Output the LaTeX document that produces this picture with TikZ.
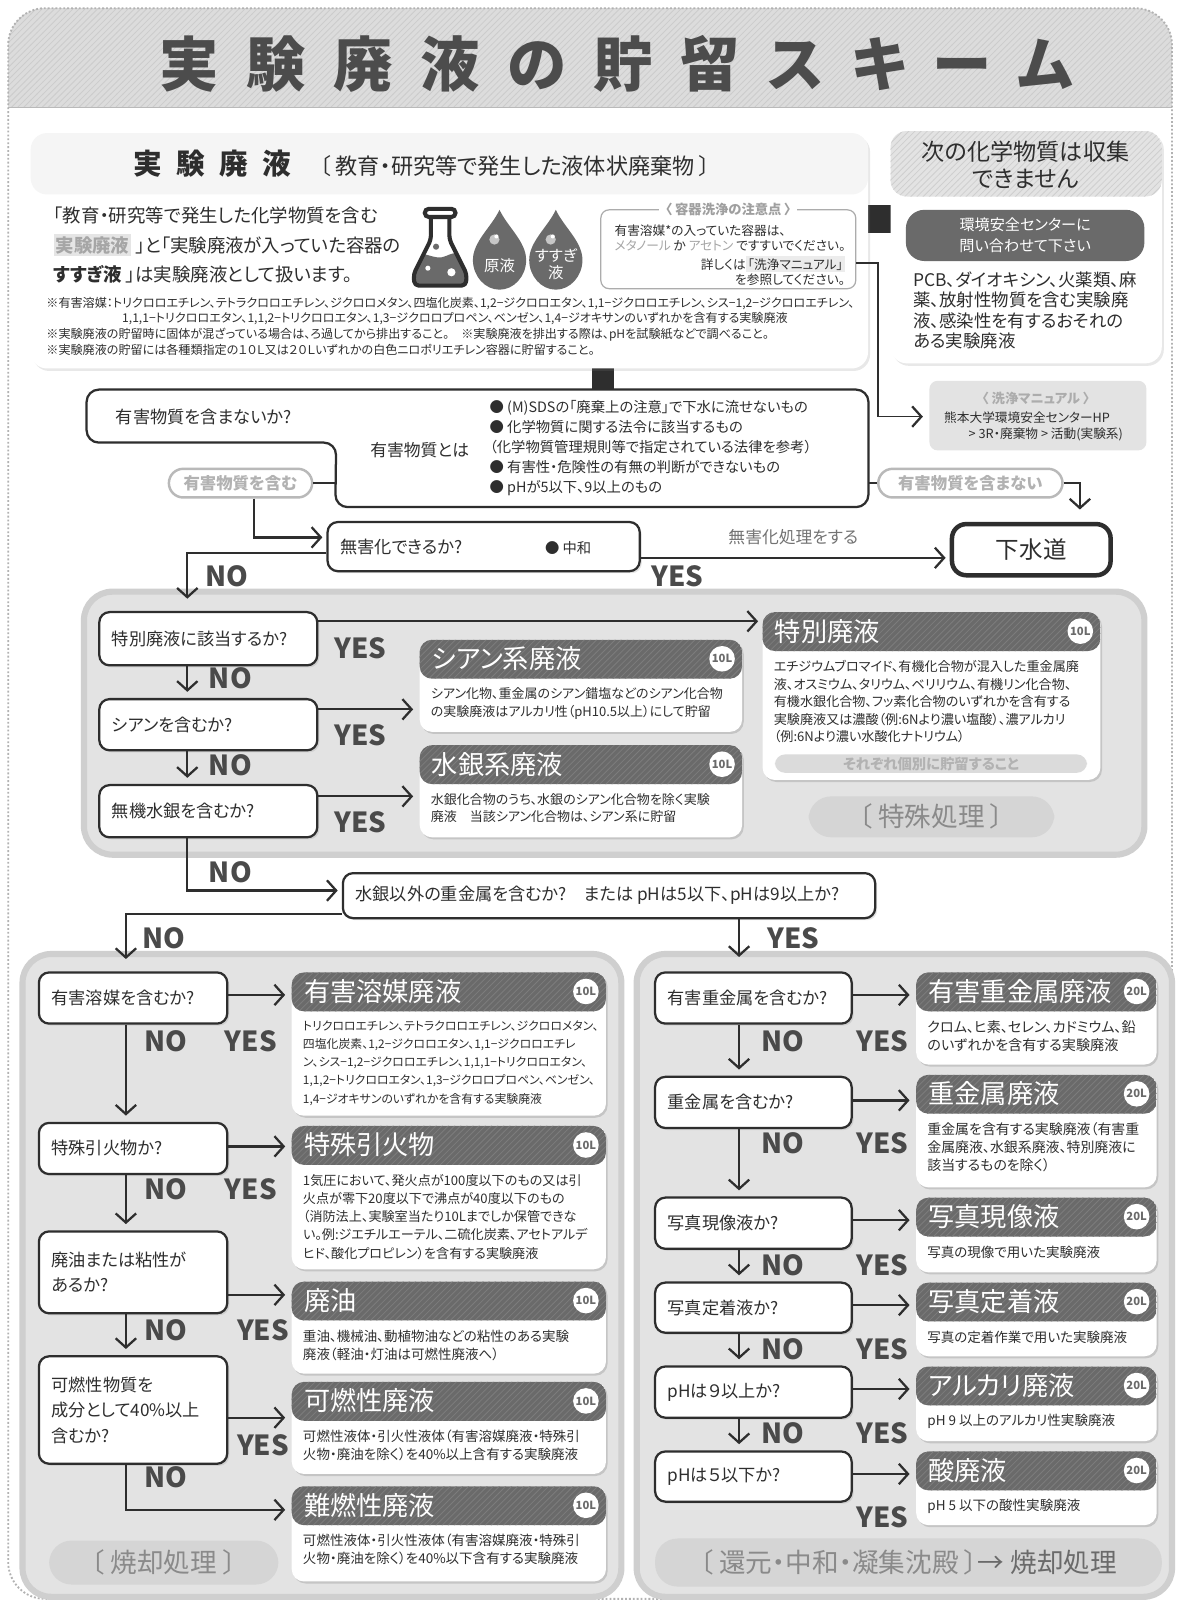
\documentclass[tikz,border=0pt]{standalone}
\usepackage{fontspec}
\setmainfont[RawFeature=+palt]{Noto Sans CJK JP}
\usetikzlibrary{positioning,fit,shadows,patterns,arrows.meta}

\definecolor{inkgray}{HTML}{2E2E2E}
\definecolor{titlegray}{HTML}{4C4C4C}
\definecolor{hdrgray}{HTML}{6A6A6A}
\definecolor{hdrline}{HTML}{7C7C7C}
\definecolor{secfill}{HTML}{E3E3E3}
\definecolor{secline}{HTML}{CFCFCF}
\definecolor{pillgray}{HTML}{D5D5D5}
\definecolor{pilltext}{HTML}{8A8A8A}
\definecolor{yngray}{HTML}{4A4A4A}
\definecolor{bandgray}{HTML}{DCDCDC}

\newcommand{\setfs}[2]{\fontsize{#1}{#2}\selectfont}
\newcommand{\tsp}{\hspace{13.5pt}}
\setlength{\fboxsep}{1pt}

\tikzset{
  flow/.style={draw=inkgray, line width=1.1pt, shorten >=2pt,
    -{Straight Barb[length=4.5pt,width=10pt,line width=1.1pt]}},
  plain/.style={draw=inkgray, line width=1.1pt},
  qbox/.style={draw=inkgray, line width=1.1pt, fill=white, rounded corners=5pt,
    inner sep=0pt, drop shadow={opacity=0.2,shadow xshift=1pt,shadow yshift=-1pt}},
  qtext/.style={font=\setfs{8.4}{12.5}, inner sep=0pt, align=left, anchor=west},
  yn/.style={font=\setfs{13.5}{14}\bfseries, text=yngray, inner sep=0pt},
  section/.style={fill=secfill, draw=secline, line width=3pt, rounded corners=14pt, inner sep=0pt},
  card/.style={inner sep=0pt, fill=white, rounded corners=6pt,
    drop shadow={opacity=0.3,shadow xshift=0.8pt,shadow yshift=-1pt},
    path picture={
      \fill[hdrgray] (path picture bounding box.north west) rectangle ([yshift=-19pt]path picture bounding box.north east);
      \fill[pattern=north east lines, pattern color=hdrline] (path picture bounding box.north west) rectangle ([yshift=-19pt]path picture bounding box.north east);
    }},
  cardtitle/.style={anchor=west, text=white, font=\setfs{12.8}{13}, inner sep=0pt},
  badge/.style={circle, fill=white, text=hdrgray, font=\setfs{5.5}{6}\bfseries, inner sep=0pt, minimum size=12.5pt},
  cardbody/.style={anchor=north west, align=left, inner sep=0pt},
  gpill/.style={fill=pillgray, rounded corners=11pt, inner sep=0pt},
  gpilltext/.style={text=pilltext, inner sep=0pt, font=\setfs{13}{14}},
  opill/.style={draw=gray!55, line width=1.2pt, fill=white, rounded corners=7pt, inner sep=0pt},
  opilltext/.style={text=gray!60, inner sep=0pt, font=\setfs{8}{9}\bfseries},
  infobox/.style={inner sep=0pt, fill=white, rounded corners=8pt,
    drop shadow={opacity=0.18,shadow xshift=1pt,shadow yshift=-1.2pt}},
}

% result card: name, corners, title, badge, body font, body
\newcommand{\wastecard}[7]{%
  \node[card, fit={#2 #3}] (#1) {};
  \node[cardtitle] (#1-t) at ([xshift=6pt,yshift=-9.5pt]#1.north west) {#4};
  \node[badge] (#1-b) at ([xshift=-10pt,yshift=-9.5pt]#1.north east) {#5};
  \node[cardbody, font=#6] (#1-x) at ([xshift=5.5pt,yshift=-23.5pt]#1.north west) {#7};
}
% question box with its text
\newcommand{\qnode}[4]{%
  \node[qbox, fit={#2 #3}] (#1) {};
  \node[qtext] (#1-t) at ([xshift=6.5pt]#1.west) {#4};
}

\begin{document}
\begin{tikzpicture}[x=0.5pt, y=-0.5pt, every node/.style={text=inkgray}]
\useasboundingbox (0,0) rectangle (1151,1568);
\fill[white] (0,0) rectangle (1151,1568);

% frame and title band
\begin{scope}
  \clip[rounded corners=18pt] (8,8) rectangle (1145,1562);
  \fill[bandgray] (0,0) rectangle (1151,105);
  \fill[pattern=north east lines, pattern color=gray!40] (0,0) rectangle (1151,105);
\end{scope}
\draw[gray!55, line width=0.6pt] (8,105) -- (1145,105);
\draw[gray!60, line width=0.9pt, densely dotted, rounded corners=18pt] (8,8) rectangle (1145,1562);
\node[font=\setfs{29}{31}\bfseries, text=titlegray] (title) at (602,62)
  {実\tsp 験\tsp 廃\tsp 液\tsp の\tsp 貯\tsp 留\tsp ス\tsp キ\tsp ー\tsp ム};

% ---- top information ----
\fill[inkgray] (848,200) rectangle (870,228);
\fill[inkgray] (578,358) rectangle (600,381);
\node[infobox, fit={(30,130) (848,360)},
  path picture={\fill[gray!8] (path picture bounding box.north west) rectangle ([yshift=-30pt]path picture bounding box.north east);}] (info) {};
\node[anchor=west, inner sep=0pt] (infohead) at (130,160)
  {\setfs{14}{15}\bfseries 実\hspace{7pt}験\hspace{7pt}廃\hspace{7pt}液\hspace{14pt}\mdseries\setfs{10.8}{12}〔 教育・研究等で発生した液体状廃棄物 〕};
\node[anchor=north west, align=left, inner sep=0pt, font=\setfs{9}{14.3}] (intro) at (52,202)
  {「教育・研究等で発生した化学物質を含む\\
   \colorbox{gray!20}{\textcolor{gray!70}{\bfseries 実験廃液}} 」と「実験廃液が入っていた容器の\\
   {\bfseries すすぎ液} 」は実験廃液として扱います。};

% flask
\begin{scope}
  \clip (421,212) -- (421,234) -- (404,268) -- (405,279) -- (455,279) -- (456,268) -- (439,234) -- (439,212) -- cycle;
  \fill[hdrgray] (400,250) .. controls (412,242) and (424,256) .. (436,250) .. controls (446,245) and (452,248) .. (460,246) -- (460,285) -- (400,285) -- cycle;
\end{scope}
\fill[white] (441,266) circle[radius=4];
\fill[white] (418,262) circle[radius=2.5];
\fill[hdrgray] (426,241) circle[radius=3];
\draw[inkgray, line width=2pt, line join=round, rounded corners=2pt]
  (421,212) -- (421,234) -- (404,268) -- (405,279) -- (455,279) -- (456,268) -- (439,234) -- (439,212);
\draw[inkgray, line width=2pt, rounded corners=2pt] (415,204) rectangle (445,212);

% drops
\foreach \dx in {488,543}{
  \begin{scope}[shift={(\dx,0)}]
    \fill[hdrgray] (0,205) .. controls (-8,222) and (-26,236) .. (-26,254) .. controls (-26,270) and (-14,283) .. (0,283)
      .. controls (14,283) and (26,270) .. (26,254) .. controls (26,236) and (8,222) .. (0,205) -- cycle;
    \fill[gray!45] (-5,234) circle[radius=5];
    \fill[white] (-3,231) circle[radius=2];
  \end{scope}
}
\node[text=white, font=\setfs{7.5}{8.5}] (genseki) at (488,260) {原液};
\node[text=white, font=\setfs{7.5}{8.5}, align=center] (susugi) at (543,258) {すすぎ\\液};

% container rinse note
\node[draw=gray!65, line width=0.6pt, rounded corners=4pt, inner sep=0pt, fit={(587,205) (836,282)}] (kyouki) {};
\node[fill=white, inner xsep=3pt, inner ysep=0pt, font=\setfs{6.5}{7}\bfseries, text=gray!75] (kyouki-t) at (kyouki.north) {〈 容器洗浄の注意点 〉};
\node[anchor=north west, align=left, inner sep=0pt, font=\setfs{6.2}{7.3}] (kyouki-a) at (600,219)
  {有害溶媒*の入っていた容器は、\\ \textcolor{gray!70}{メタノール} か \textcolor{gray!70}{アセトン} ですすいでください。};
\node[anchor=north east, align=right, inner sep=0pt, font=\setfs{6.2}{7.5}] (kyouki-b) at (826,250)
  {詳しくは\colorbox{gray!15}{「洗浄マニュアル」}\\を参照してください。};

% footnotes
\node[anchor=north west, align=left, inner sep=0pt, font=\setfs{5.9}{7.6}] (notes) at (45,290)
  {※有害溶媒：トリクロロエチレン、テトラクロロエチレン、ジクロロメタン、四塩化炭素、1,2−ジクロロエタン、1,1−ジクロロエチレン、シス−1,2−ジクロロエチレン、\\
   \hspace*{37pt}1,1,1−トリクロロエタン、1,1,2−トリクロロエタン、1,3−ジクロロプロペン、ベンゼン、1,4−ジオキサンのいずれかを含有する実験廃液\\
   ※実験廃液の貯留時に固体が混ざっている場合は、ろ過してから排出すること。　※実験廃液を排出する際は、pHを試験紙などで調べること。\\
   ※実験廃液の貯留には各種類指定の１０Ｌ又は２０Ｌいずれかの白色ニロポリエチレン容器に貯留すること。};

% not collected
\node[infobox, fit={(870,128) (1135,355)},
  path picture={\fill[gray!22] (path picture bounding box.north west) rectangle ([yshift=-32pt]path picture bounding box.north east);
    \fill[pattern=north east lines, pattern color=gray!38] (path picture bounding box.north west) rectangle ([yshift=-32pt]path picture bounding box.north east);}] (ngbox) {};
\node[align=center, font=\setfs{11.3}{13}] (ng-t) at (1002,161) {次の化学物質は収集\\できません};
\node[fill=hdrgray, rounded corners=9pt, inner sep=0pt, fit={(885,205) (1118,255)}] (ngpill) {};
\node[text=white, align=center, inner sep=0pt, font=\setfs{7.4}{10}] (ngpill-t) at (ngpill) {環境安全センターに\\問い合わせて下さい};
\node[anchor=north west, align=left, inner sep=0pt, font=\setfs{8.5}{10}] (ng-x) at (892,265)
  {PCB、ダイオキシン、火薬類、麻\\薬、放射性物質を含む実験廃\\液、感染性を有するおそれの\\ある実験廃液};

% rinse manual
\node[fill=gray!22, rounded corners=4pt, inner sep=0pt, fit={(908,372) (1120,440)}] (manual) {};
\node[font=\setfs{6.5}{7}\bfseries, text=gray!65] (manual-t) at (1012,389) {〈 洗浄マニュアル 〉};
\node[anchor=north west, align=left, inner sep=0pt, font=\setfs{6.2}{7.8}] (manual-x) at (922,402)
  {熊本大学環境安全センターHP\\\hspace*{12pt}> 3R・廃棄物 > 活動(実験系)};
\draw[flow, line width=0.8pt, shorten >=3pt] (kyouki.east |- 0,257) -| (858,407) -- (manual.west |- 0,407);

% ---- hazardous substances ----
\node[fit={(85,381) (328,432)}, inner sep=0pt] (hq) {};
\node[fit={(328,381) (848,495)}, inner sep=0pt] (hdef) {};
\filldraw[fill=white, draw=inkgray, line width=1.1pt, rounded corners=6pt]
  (hq.south west) -- (hq.north west) -- (hdef.north east) -- (hdef.south east) -- (hdef.south west) -- (hq.south east) -- cycle;
\node[font=\setfs{8.4}{9}] (hq-t) at (199,407) {有害物質を含まないか?};
\node[font=\setfs{8.2}{9}] (hdef-t) at (410,440) {有害物質とは};
\node[anchor=north west, align=left, inner sep=0pt, font=\setfs{7}{9.7}] (hdef-x) at (478,391)
  {● (M)SDSの「廃棄上の注意」で下水に流せないもの\\
   ● 化学物質に関する法令に該当するもの\\
   （化学物質管理規則等で指定されている法律を参考）\\
   ● 有害性・危険性の有無の判断ができないもの\\
   ● pHが5以下、9以上のもの};
\node[opill, fit={(165,458) (305,486)}] (p1) {};
\node[opilltext] (p1-t) at (p1) {有害物質を含む};
\node[opill, fit={(858,458) (1038,486)}] (p2) {};
\node[opilltext] (p2-t) at (p2) {有害物質を含まない};

\qnode{mugai}{(320,510)}{(625,558)}{無害化できるか?}
\node[font=\setfs{7}{8}] (chuwa) at (555,535) {● 中和};
\node[draw=inkgray, line width=2.2pt, rounded corners=7pt, fill=white, inner sep=0pt,
  fit={(930,512) (1085,562)}] (gesui) {};
\node[font=\setfs{11.5}{12}, inner sep=0pt] (gesui-t) at (gesui) {下水道};
\node[font=\setfs{8.2}{9}, text=gray!90!black] (shori) at (775,525) {無害化処理をする};

\draw[plain] (p1.east) -- (hdef.west |- p1.east);
\draw[plain] (hdef.east |- p2.west) -- (p2.west);
\draw[flow] (p1.south -| 248,0) |- (mugai.west |- 0,525);
\draw[flow, shorten >=6pt] (p2.east) -| (gesui.north -| 1055,0);
\draw[flow] (mugai.east |- 0,545) -- (gesui.west |- 0,545);

% ---- special treatment ----
\node[section, fit={(82,578) (1118,835)}] (secS) {};
\qnode{qa1}{(97,598)}{(310,650)}{特別廃液に該当するか?}
\qnode{qa2}{(97,683)}{(310,733)}{シアンを含むか?}
\qnode{qa3}{(97,767)}{(310,818)}{無機水銀を含むか?}
\wastecard{cyan}{(410,625)}{(725,715)}{シアン系廃液}{10L}{\setfs{6.35}{8.6}}
  {シアン化物、重金属のシアン錯塩などのシアン化合物\\の実験廃液はアルカリ性（pH10.5以上）にして貯留}
\wastecard{hg}{(410,728)}{(725,818)}{水銀系廃液}{10L}{\setfs{6.35}{8.6}}
  {水銀化合物のうち、水銀のシアン化合物を除く実験\\廃液　当該シアン化合物は、シアン系に貯留}
\wastecard{tok}{(745,598)}{(1075,762)}{特別廃液}{10L}{\setfs{6.4}{8.6}}
  {エチジウムブロマイド、有機化合物が混入した重金属廃\\液、オスミウム、タリウム、ベリリウム、有機リン化合物、\\有機水銀化合物、フッ素化合物のいずれかを含有する\\実験廃液又は濃酸（例:6Nより濃い塩酸）、濃アルカリ\\（例:6Nより濃い水酸化ナトリウム）}
\node[fill=gray!28, rounded corners=5pt, inner sep=0pt, fit={(757,737) (1062,755)}] (tokpill) {};
\node[text=gray!60, inner sep=0pt, font=\setfs{7}{8}\bfseries] (tokpill-t) at (tokpill) {それぞれ個別に貯留すること};
\node[gpill, fit={(790,778) (1030,818)}] (tokusyu) {};
\node[gpilltext] (tokusyu-t) at (tokusyu) {〔 特殊処理 〕};

\draw[flow, shorten >=6pt] (mugai.west |- 0,540) -| (qa1.north -| 183,0);
\draw[flow] (qa1.east |- 0,607) -- (tok.west |- 0,607);
\foreach \a/\b/\y in {qa2/cyan/693, qa3/hg/778}
  \draw[flow, shorten >=3pt] (\a.east |- 0,\y) -- (\b.west |- 0,\y);
\foreach \a/\b in {qa1/qa2, qa2/qa3}
  \draw[flow, shorten >=3pt] (\a.south -| 183,0) -- (\b.north -| 183,0);

% ---- next question ----
\qnode{qm}{(335,853)}{(855,897)}{水銀以外の重金属を含むか?　または pHは5以下、pHは9以上か?}
\draw[flow] (qa3.south -| 183,0) |- (qm.west |- 0,870);

% ---- incineration ----
\node[section, fit={(22,932) (607,1560)}] (secL) {};
\qnode{q5}{(38,950)}{(222,1000)}{有害溶媒を含むか?}
\qnode{q6}{(38,1097)}{(222,1147)}{特殊引火物か?}
\qnode{q7}{(38,1203)}{(222,1283)}{廃油または粘性が\\あるか?}
\qnode{q8}{(38,1325)}{(222,1430)}{可燃性物質を\\成分として40\%以上\\含むか?}
\wastecard{yobai}{(285,950)}{(592,1090)}{有害溶媒廃液}{10L}{\setfs{5.8}{8.9}}
  {トリクロロエチレン、テトラクロロエチレン、ジクロロメタン、\\四塩化炭素、1,2−ジクロロエタン、1,1−ジクロロエチレ\\ン、シス−1,2−ジクロロエチレン、1,1,1−トリクロロエタン、\\1,1,2−トリクロロエタン、1,3−ジクロロプロペン、ベンゼン、\\1,4−ジオキサンのいずれかを含有する実験廃液}
\wastecard{inka}{(285,1100)}{(592,1240)}{特殊引火物}{10L}{\setfs{6.4}{8.9}}
  {1気圧において、発火点が100度以下のもの又は引\\火点が零下20度以下で沸点が40度以下のもの\\（消防法上、実験室当たり10Lまでしか保管できな\\い。例:ジエチルエーテル、二硫化炭素、アセトアルデ\\ヒド、酸化プロピレン）を含有する実験廃液}
\wastecard{haiyu}{(285,1252)}{(592,1342)}{廃油}{10L}{\setfs{6.6}{8.8}}
  {重油、機械油、動植物油などの粘性のある実験\\廃液（軽油・灯油は可燃性廃液へ）}
\wastecard{kanen}{(285,1350)}{(592,1440)}{可燃性廃液}{10L}{\setfs{6.6}{8.8}}
  {可燃性液体・引火性液体（有害溶媒廃液・特殊引\\火物・廃油を除く）を40\%以上含有する実験廃液}
\wastecard{nanen}{(285,1452)}{(592,1545)}{難燃性廃液}{10L}{\setfs{6.6}{8.8}}
  {可燃性液体・引火性液体（有害溶媒廃液・特殊引\\火物・廃油を除く）を40\%以下含有する実験廃液}
\node[gpill, fit={(48,1505) (272,1548)}] (yaki) {};
\node[gpilltext] (yaki-t) at (yaki) {〔 焼却処理 〕};

\draw[flow, shorten >=6pt] (qm.west |- 0,893) -| (q5.north -| 123,0);
\foreach \a/\b/\y in {q5/yobai/972, q6/inka/1120, q7/haiyu/1265, q8/kanen/1385}
  \draw[flow, shorten >=3pt] (\a.east |- 0,\y) -- (\b.west |- 0,\y);
\foreach \a/\b in {q5/q6, q6/q7, q7/q8}
  \draw[flow, shorten >=3pt] (\a.south -| 123,0) -- (\b.north -| 123,0);
\draw[flow, shorten >=3pt] (q8.south -| 123,0) |- (nanen.west |- 0,1475);

% ---- reduction / neutralisation ----
\node[section, fit={(622,932) (1145,1560)}] (secR) {};
\qnode{r1}{(640,950)}{(832,1000)}{有害重金属を含むか?}
\qnode{r2}{(640,1052)}{(832,1102)}{重金属を含むか?}
\qnode{r3}{(640,1170)}{(832,1220)}{写真現像液か?}
\qnode{r4}{(640,1253)}{(832,1302)}{写真定着液か?}
\qnode{r5}{(640,1335)}{(832,1385)}{pHは９以上か?}
\qnode{r6}{(640,1418)}{(832,1467)}{pHは５以下か?}
\wastecard{c1}{(895,950)}{(1130,1040)}{有害重金属廃液}{20L}{\setfs{6.9}{8.7}}
  {クロム、ヒ素、セレン、カドミウム、鉛\\のいずれかを含有する実験廃液}
\wastecard{c2}{(895,1050)}{(1130,1160)}{重金属廃液}{20L}{\setfs{6.8}{8.7}}
  {重金属を含有する実験廃液（有害重\\金属廃液、水銀系廃液、特別廃液に\\該当するものを除く）}
\wastecard{c3}{(895,1170)}{(1130,1243)}{写真現像液}{20L}{\setfs{6.6}{8.7}}
  {写真の現像で用いた実験廃液}
\wastecard{c4}{(895,1253)}{(1130,1325)}{写真定着液}{20L}{\setfs{6.6}{8.7}}
  {写真の定着作業で用いた実験廃液}
\wastecard{c5}{(895,1335)}{(1130,1408)}{アルカリ廃液}{20L}{\setfs{6.6}{8.7}}
  {pH 9 以上のアルカリ性実験廃液}
\wastecard{c6}{(895,1418)}{(1130,1490)}{酸廃液}{20L}{\setfs{6.6}{8.7}}
  {pH 5 以下の酸性実験廃液}
\node[gpill, fit={(640,1503) (1135,1550)}] (kangen) {};
\node[gpilltext] (kangen-t) at (kangen) {〔 還元・中和・凝集沈殿 〕\textcolor{hdrgray}{→ 焼却処理}};

\draw[flow, shorten >=7pt] (qm.south -| 722,0) -- (r1.north -| 722,0);
\foreach \a/\b/\y in {r1/c1/972, r2/c2/1075, r3/c3/1192, r4/c4/1275, r5/c5/1357, r6/c6/1440}
  \draw[flow, shorten >=3pt] (\a.east |- 0,\y) -- (\b.west |- 0,\y);
\foreach \a/\b in {r1/r2, r2/r3, r3/r4, r4/r5, r5/r6}
  \draw[flow, shorten >=3pt] (\a.south -| 722,0) -- (\b.north -| 722,0);

% ---- YES / NO ----
\foreach \p/\t in {{(222,563)}/NO, {(662,563)}/YES,
    {(352,633)}/YES, {(225,663)}/NO, {(352,718)}/YES, {(225,748)}/NO, {(352,803)}/YES, {(225,852)}/NO,
    {(160,917)}/NO, {(775,917)}/YES,
    {(162,1017)}/NO, {(245,1017)}/YES, {(162,1162)}/NO, {(245,1162)}/YES,
    {(162,1300)}/NO, {(257,1300)}/YES, {(257,1412)}/YES, {(162,1443)}/NO,
    {(765,1017)}/NO, {(862,1017)}/YES, {(765,1117)}/NO, {(862,1117)}/YES,
    {(765,1236)}/NO, {(862,1236)}/YES, {(765,1318)}/NO, {(862,1318)}/YES,
    {(765,1400)}/NO, {(862,1400)}/YES, {(862,1482)}/YES}
  \node[yn] at \p {\t};
\end{tikzpicture}
\end{document}
